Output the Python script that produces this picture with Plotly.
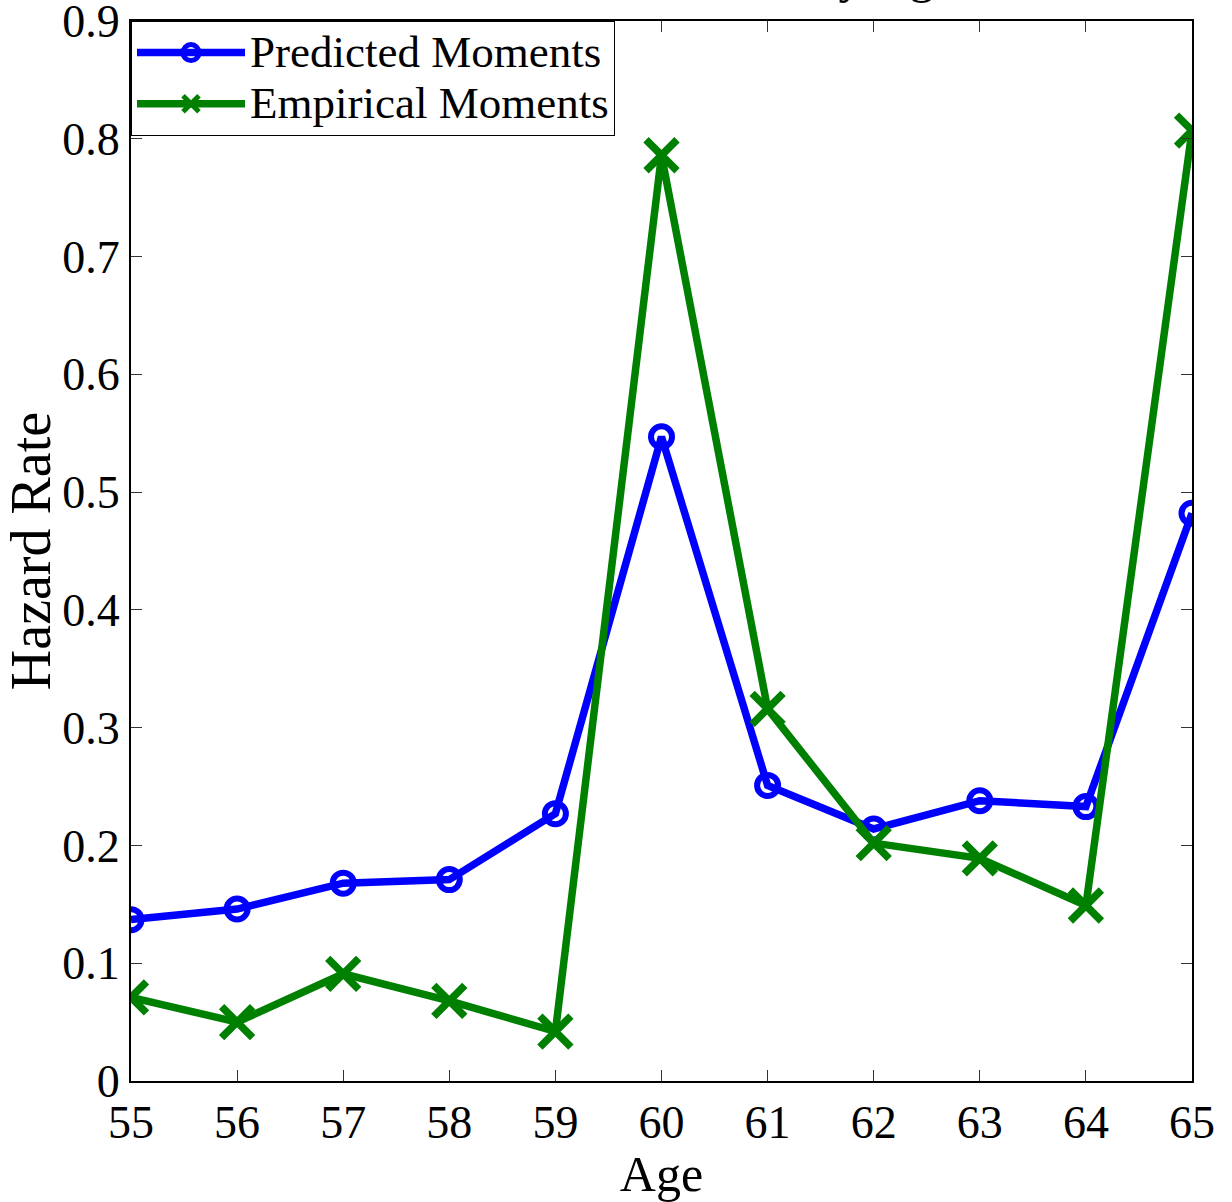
import plotly.graph_objects as go

ages = [55, 56, 57, 58, 59, 60, 61, 62, 63, 64, 65]
predicted = [0.137, 0.146, 0.168, 0.171, 0.227, 0.547, 0.251, 0.214, 0.238, 0.233, 0.482]
empirical = [0.071, 0.050, 0.091, 0.068, 0.042, 0.786, 0.316, 0.202, 0.189, 0.149, 0.807]
y_ticks = [0, 0.1, 0.2, 0.3, 0.4, 0.5, 0.6, 0.7, 0.8, 0.9]
y_tick_labels = ["0", "0.1", "0.2", "0.3", "0.4", "0.5", "0.6", "0.7", "0.8", "0.9"]
series_names = ["Predicted Moments", "Empirical Moments"]
title_text = "Retirement Hazard by Age"

FONT = "Liberation Serif"
LEGEND_TXT = '<span style="font-size:45px">{}</span>'

fig = go.Figure()
fig.add_trace(go.Scatter(
    x=ages, y=predicted, name=LEGEND_TXT.format(series_names[0]), mode="lines+markers",
    line=dict(color="#0000ff", width=7.5),
    marker=dict(symbol="circle-open", size=21, color="#0000ff", line=dict(width=6, color="#0000ff")),
))
fig.add_trace(go.Scatter(
    x=ages, y=empirical, name=LEGEND_TXT.format(series_names[1]), mode="lines+markers",
    line=dict(color="#008000", width=7.5),
    marker=dict(symbol="x-thin-open", size=31, color="#008000", line=dict(width=7.5, color="#008000")),
))

fig.update_layout(
    width=1232, height=1202,
    margin=dict(l=131, r=40, t=21, b=121, autoexpand=False),
    paper_bgcolor="white", plot_bgcolor="white",
    font=dict(family=FONT, color="black", size=45),
    showlegend=True,
    legend=dict(
        x=0, y=1, xanchor="left", yanchor="top",
        bgcolor="white", bordercolor="black", borderwidth=1,
        font=dict(family=FONT, size=37, color="black"),
        itemwidth=108, tracegroupgap=0,
    ),
    xaxis=dict(
        range=[55, 65], tickmode="array", tickvals=ages, ticktext=[str(a) for a in ages],
        ticks="inside", ticklen=11, tickcolor="#333", tickwidth=1,
        showline=True, linecolor="black", linewidth=2, mirror="ticks",
        showgrid=False, zeroline=False, automargin=False, ticklabeloverflow="allow",
        tickfont=dict(family=FONT, size=46),
        title=dict(text="Age", font=dict(family=FONT, size=50), standoff=0),
    ),
    yaxis=dict(
        range=[0, 0.9], tickmode="array", tickvals=y_ticks, ticktext=y_tick_labels,
        ticks="inside", ticklen=11, tickcolor="#333", tickwidth=1,
        showline=True, linecolor="black", linewidth=2, mirror="ticks",
        showgrid=False, zeroline=False, automargin=False, ticklabeloverflow="allow",
        tickfont=dict(family=FONT, size=46),
        title=dict(text="Hazard Rate", font=dict(family=FONT, size=56), standoff=6),
    ),
)

fig.add_annotation(
    text=title_text, xref="paper", yref="paper", x=0.5, y=1,
    xanchor="center", yanchor="bottom", yshift=16, xshift=28, showarrow=False,
    font=dict(family=FONT, size=50, color="black"),
)

fig.write_html("out.html", config={"displayModeBar": False},
               post_script="document.body.style.margin='0px';")
